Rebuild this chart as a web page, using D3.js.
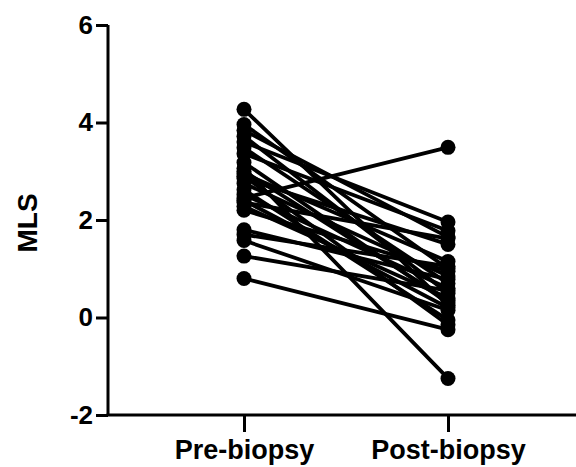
<!DOCTYPE html>
<html><head><meta charset="utf-8">
<script src="https://cdn.jsdelivr.net/npm/d3@7"></script>
<style>html,body{margin:0;padding:0;background:#fff;}svg{display:block;}</style>
</head><body>
<svg id="c" width="576" height="467"></svg>
<script>
const categories = ["Pre-biopsy", "Post-biopsy"];
const preValues  = [4.27, 3.96, 3.84, 3.72, 3.60, 3.48, 3.36, 3.18, 3.06, 2.95, 2.85, 2.75, 2.62, 2.52, 2.45, 2.36, 2.28, 2.20, 1.80, 1.70, 1.58, 1.26, 0.80, 3.00, 2.90, 2.40];
const postValues = [0.25, 1.00, 1.65, 0.50, 1.96, 0.70, 1.78, 0.30, -1.25, 1.15, 1.50, 0.85, -0.05, 0.60, 3.49, 1.62, 0.40, 0.95, 0.78, 1.05, 0.15, 0.55, -0.25, 0.35, -0.15, 0.20];
const yTicks = [-2, 0, 2, 4, 6];
const yLabel = "MLS";

const svg = d3.select("#c");
const y = d3.scaleLinear().domain([-2, 6]).range([415, 25]);
const x = d3.scalePoint().domain(categories).range([108, 584]).padding(2/3);
const font = "'Liberation Sans', Arial, sans-serif";

// pairs
const pairs = preValues.map((v, i) => [v, postValues[i]]);
svg.append("g").selectAll("line").data(pairs).join("line")
  .attr("x1", x(categories[0])).attr("x2", x(categories[1]))
  .attr("y1", d => y(d[0])).attr("y2", d => y(d[1]))
  .attr("stroke", "#000").attr("stroke-width", 3.8).attr("stroke-linecap", "round");
svg.append("g").selectAll("circle").data(preValues).join("circle")
  .attr("cx", x(categories[0])).attr("cy", d => y(d)).attr("r", 7.5).attr("fill", "#000");
svg.append("g").selectAll("circle").data(postValues).join("circle")
  .attr("cx", x(categories[1])).attr("cy", d => y(d)).attr("r", 7.5).attr("fill", "#000");

// y axis
const ya = svg.append("g").attr("transform", "translate(108,0)")
  .call(d3.axisLeft(y).tickValues(yTicks).tickSize(12).tickPadding(3).tickFormat(d => String(d)));
ya.select(".domain").attr("stroke-width", 3).attr("d", "M0," + y(6) + "V" + y(-2));
ya.selectAll(".tick line").attr("stroke-width", 3);
ya.selectAll("text").attr("font-family", font).attr("font-weight", "bold").attr("font-size", 26).attr("fill", "#000");

// x axis
const xa = svg.append("g").attr("transform", "translate(0,415)")
  .call(d3.axisBottom(x).tickSize(17).tickPadding(8));
xa.select(".domain").attr("stroke-width", 3).attr("d", "M106.5,0H584");
xa.selectAll(".tick line").attr("stroke-width", 3);
xa.selectAll("text").attr("font-family", font).attr("font-weight", "bold").attr("font-size", 27).attr("fill", "#000");

svg.append("text").attr("transform", "translate(37,223) rotate(-90)")
  .attr("text-anchor", "middle").attr("font-family", font).attr("font-weight", "bold")
  .attr("font-size", 28).text(yLabel);
</script>
</body></html>
